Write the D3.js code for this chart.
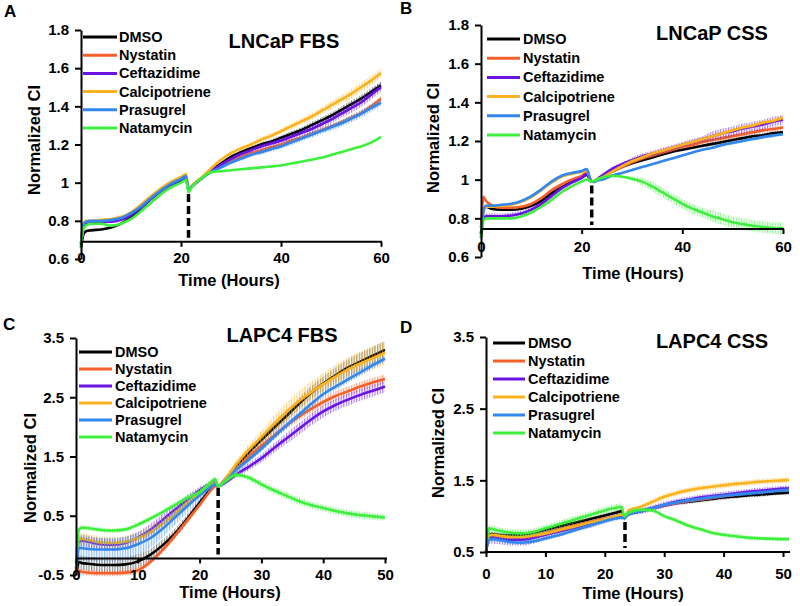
<!DOCTYPE html>
<html><head><meta charset="utf-8">
<script src="https://cdn.jsdelivr.net/npm/d3@7"></script>
<style>
body{margin:0;background:#fff}
svg{display:block}
text{font-family:"Liberation Sans",Arial,Helvetica,sans-serif;font-weight:bold;fill:#000}
</style>
</head><body>
<svg id="c" width="800" height="606"></svg>
<script>
// ---------- DATA ----------
const seriesNames = ["DMSO","Nystatin","Ceftazidime","Calcipotriene","Prasugrel","Natamycin"];
const panelTitles = ["LNCaP FBS","LNCaP CSS","LAPC4 FBS","LAPC4 CSS"];
const panelLetters = ["A","B","C","D"];
const xTicksAB = [0,20,40,60];
const xTicksCD = [0,10,20,30,40,50];
const yTicksAB = [0.6,0.8,1,1.2,1.4,1.6,1.8];
const yTicksCD = [-0.5,0.5,1.5,2.5,3.5];
const yTicksD = [0.5,1.5,2.5,3.5];
const treatTimes = [21.5,22,23,23.4];
const treatTop = [0.94,0.97,0.97,0.92];

// Panel A: LNCaP FBS
const timesA = [0,0.5,1,2,4,6,8,10,12,14,16,18,20,21,21.5,22,23,24,26,28,30,32,34,36,38,40,42,44,46,48,50,52,54,56,58,60];
const dmsoA = [0.66,0.73,0.745,0.75,0.755,0.765,0.785,0.82,0.865,0.915,0.955,0.99,1.01,1.025,0.96,0.975,1.0,1.02,1.065,1.10,1.135,1.16,1.18,1.20,1.215,1.235,1.255,1.275,1.30,1.325,1.35,1.38,1.41,1.44,1.475,1.51];
const nystatinA = [0.68,0.78,0.79,0.795,0.80,0.80,0.81,0.835,0.875,0.92,0.96,0.995,1.02,1.035,0.96,0.975,1.0,1.02,1.06,1.09,1.115,1.135,1.155,1.17,1.185,1.20,1.22,1.235,1.255,1.275,1.295,1.315,1.34,1.365,1.40,1.44];
const ceftazidimeA = [0.67,0.77,0.785,0.79,0.795,0.795,0.805,0.83,0.87,0.915,0.955,0.99,1.015,1.03,0.96,0.975,1.0,1.02,1.06,1.095,1.125,1.15,1.17,1.19,1.205,1.22,1.24,1.26,1.28,1.305,1.33,1.36,1.39,1.42,1.46,1.50];
const calcipotrieneA = [0.68,0.785,0.80,0.80,0.805,0.81,0.82,0.845,0.885,0.93,0.97,1.005,1.03,1.045,0.965,0.98,1.005,1.025,1.075,1.12,1.155,1.18,1.20,1.225,1.245,1.27,1.295,1.32,1.345,1.375,1.405,1.435,1.465,1.50,1.535,1.575];
const prasugrelA = [0.68,0.78,0.795,0.80,0.80,0.805,0.815,0.84,0.875,0.92,0.96,0.995,1.02,1.035,0.96,0.975,1.0,1.02,1.055,1.08,1.105,1.125,1.145,1.16,1.175,1.19,1.21,1.23,1.25,1.27,1.29,1.31,1.335,1.36,1.39,1.42];
const natamycinA = [0.66,0.76,0.775,0.785,0.785,0.775,0.785,0.81,0.85,0.895,0.94,0.975,1.0,1.015,0.95,0.97,1.0,1.02,1.055,1.06,1.065,1.07,1.075,1.08,1.085,1.09,1.10,1.11,1.12,1.13,1.145,1.16,1.175,1.19,1.21,1.24];
const errDmsoA = [0,.005,.005,.005,.005,.005,.005,.005,.005,.005,.005,.005,.006,.006,.006,.006,.006,.006,.008,.008,.01,.01,.01,.012,.012,.012,.014,.014,.016,.016,.018,.018,.02,.02,.02,.02];
const errNystatinA = [0,.004,.004,.004,.004,.004,.004,.004,.004,.004,.004,.004,.005,.005,.005,.005,.005,.005,.006,.006,.007,.007,.007,.008,.008,.008,.009,.009,.01,.01,.012,.012,.014,.014,.014,.014];
const errCeftazidimeA = [0,.005,.005,.005,.005,.005,.005,.005,.005,.005,.005,.005,.006,.006,.006,.006,.006,.006,.008,.008,.01,.01,.01,.013,.013,.013,.016,.016,.018,.018,.02,.02,.025,.025,.025,.025];
const errCalcipotrieneA = [0,.005,.005,.005,.005,.005,.005,.005,.005,.005,.005,.005,.006,.006,.006,.006,.006,.006,.008,.008,.01,.01,.01,.013,.013,.013,.016,.016,.018,.018,.022,.022,.025,.025,.025,.025];
const errPrasugrelA = [0,.005,.005,.005,.005,.005,.005,.005,.005,.005,.005,.005,.006,.006,.006,.006,.006,.006,.008,.008,.01,.01,.01,.012,.012,.012,.014,.014,.016,.016,.018,.018,.02,.02,.02,.02];
const errNatamycinA = [0,.004,.004,.004,.004,.004,.004,.004,.004,.004,.004,.004,.004,.004,.004,.004,.004,.004,.004,.004,.004,.004,.004,.005,.005,.005,.005,.005,.005,.005,.006,.006,.006,.006,.006,.006];

// Panel B: LNCaP CSS
const timesB = [0,0.5,1,2,4,6,8,10,12,14,16,18,20,21,22,22.5,23,24,26,28,30,32,34,36,38,40,42,44,46,48,50,52,54,56,58,60];
const dmsoB = [0.72,0.84,0.86,0.85,0.845,0.845,0.85,0.865,0.89,0.93,0.96,0.99,1.01,1.025,0.99,0.99,1.0,1.01,1.04,1.065,1.085,1.10,1.115,1.13,1.145,1.155,1.165,1.175,1.185,1.195,1.205,1.215,1.225,1.23,1.24,1.245];
const nystatinB = [0.75,0.91,0.89,0.87,0.855,0.855,0.86,0.875,0.905,0.945,0.975,1.0,1.02,1.035,0.99,0.99,1.0,1.01,1.04,1.065,1.09,1.11,1.125,1.14,1.155,1.17,1.18,1.195,1.205,1.215,1.225,1.235,1.245,1.255,1.262,1.27];
const ceftazidimeB = [0.70,0.80,0.81,0.81,0.81,0.815,0.825,0.845,0.875,0.915,0.955,0.985,1.01,1.03,0.99,0.99,1.0,1.02,1.055,1.08,1.10,1.12,1.135,1.15,1.165,1.18,1.195,1.21,1.225,1.24,1.25,1.265,1.275,1.285,1.30,1.31];
const calcipotrieneB = [0.72,0.84,0.86,0.86,0.865,0.87,0.885,0.91,0.945,0.985,1.015,1.03,1.04,1.045,0.99,0.99,1.0,1.01,1.04,1.07,1.095,1.115,1.135,1.15,1.165,1.18,1.195,1.21,1.225,1.24,1.255,1.27,1.28,1.295,1.305,1.32];
const prasugrelB = [0.72,0.845,0.865,0.865,0.87,0.875,0.89,0.915,0.95,0.99,1.02,1.035,1.045,1.055,0.99,0.99,0.995,1.0,1.02,1.035,1.05,1.065,1.08,1.095,1.11,1.125,1.14,1.155,1.165,1.18,1.19,1.20,1.21,1.22,1.228,1.235];
const natamycinB = [0.70,0.79,0.80,0.80,0.80,0.80,0.81,0.83,0.86,0.895,0.935,0.965,0.99,1.0,0.99,0.995,1.0,1.01,1.02,1.015,1.005,0.99,0.965,0.935,0.905,0.875,0.85,0.83,0.81,0.795,0.78,0.77,0.762,0.755,0.75,0.748];
const errDmsoB = [0,.005,.005,.005,.005,.005,.005,.005,.005,.005,.005,.005,.005,.005,.005,.005,.005,.005,.005,.005,.008,.008,.008,.008,.008,.008,.008,.008,.01,.01,.01,.01,.01,.01,.01,.01];
const errNystatinB = [0,.012,.01,.008,.008,.008,.008,.008,.008,.008,.008,.008,.008,.008,.008,.008,.008,.008,.008,.008,.01,.01,.01,.01,.01,.01,.01,.01,.012,.012,.012,.012,.012,.012,.012,.012];
const errCeftazidimeB = [0,.015,.015,.015,.015,.015,.015,.015,.01,.01,.01,.01,.01,.01,.01,.01,.01,.01,.01,.01,.015,.015,.015,.015,.015,.015,.015,.015,.025,.025,.025,.025,.025,.025,.025,.025];
const errCalcipotrieneB = [0,.005,.005,.005,.005,.005,.005,.005,.005,.005,.005,.005,.005,.005,.005,.005,.005,.005,.005,.005,.008,.008,.008,.008,.008,.008,.008,.008,.01,.01,.01,.01,.01,.01,.01,.01];
const errPrasugrelB = [0,.005,.005,.005,.005,.005,.005,.005,.005,.005,.005,.005,.005,.005,.005,.005,.005,.005,.005,.005,.006,.006,.006,.006,.006,.006,.006,.006,.008,.008,.008,.008,.008,.008,.008,.008];
const errNatamycinB = [0,.005,.005,.005,.005,.005,.005,.005,.005,.005,.005,.005,.005,.005,.005,.005,.005,.005,.005,.005,.012,.02,.025,.025,.025,.025,.025,.025,.03,.03,.03,.03,.03,.03,.03,.03];

// Panel C: LAPC4 FBS
const timesC = [0,0.5,1,2,4,6,8,10,12,14,16,18,20,22,22.5,23,24,26,28,30,32,34,36,38,40,42,44,46,48,50];
const dmsoC = [-0.5,-0.28,-0.3,-0.31,-0.33,-0.33,-0.32,-0.27,-0.16,0.0,0.2,0.45,0.72,0.97,1.02,1.0,1.1,1.35,1.57,1.78,1.98,2.18,2.38,2.57,2.73,2.87,3.0,3.1,3.2,3.3];
const nystatinC = [-0.5,-0.43,-0.45,-0.46,-0.47,-0.47,-0.46,-0.42,-0.28,-0.08,0.16,0.42,0.68,0.95,1.0,1.0,1.08,1.3,1.5,1.68,1.85,2.02,2.17,2.3,2.42,2.52,2.6,2.68,2.75,2.81];
const ceftazidimeC = [-0.4,0.07,0.08,0.06,0.02,0.01,0.04,0.13,0.26,0.43,0.6,0.77,0.93,1.05,1.07,1.0,1.05,1.2,1.33,1.47,1.64,1.8,1.96,2.12,2.26,2.37,2.46,2.54,2.61,2.68];
const calcipotrieneC = [-0.4,0.1,0.11,0.09,0.05,0.04,0.06,0.12,0.22,0.36,0.53,0.71,0.88,1.02,1.05,1.0,1.1,1.38,1.62,1.83,2.05,2.25,2.43,2.58,2.72,2.85,2.97,3.07,3.16,3.25];
const prasugrelC = [-0.45,-0.04,-0.05,-0.06,-0.07,-0.07,-0.05,0.02,0.12,0.28,0.47,0.66,0.84,1.0,1.03,1.0,1.07,1.28,1.45,1.63,1.83,2.02,2.2,2.38,2.55,2.68,2.8,2.92,3.04,3.15];
const natamycinC = [-0.3,0.27,0.3,0.29,0.26,0.25,0.27,0.35,0.45,0.56,0.68,0.8,0.9,1.08,1.12,1.0,1.07,1.19,1.14,1.03,0.93,0.84,0.75,0.68,0.63,0.58,0.54,0.51,0.49,0.47];
const errDmsoC = [0,.12,.12,.12,.12,.12,.12,.12,.1,.1,.08,.08,.06,.04,.04,.03,.04,.05,.06,.07,.08,.09,.1,.11,.12,.13,.14,.15,.15,.15];
const errNystatinC = [0,.05,.05,.05,.05,.05,.05,.05,.05,.05,.05,.05,.04,.03,.03,.03,.03,.04,.05,.05,.06,.06,.07,.07,.07,.08,.08,.08,.08,.08];
const errCeftazidimeC = [0,.1,.1,.1,.1,.1,.1,.1,.1,.1,.09,.08,.06,.04,.04,.03,.04,.05,.06,.07,.08,.09,.1,.1,.1,.1,.1,.1,.1,.1];
const errCalcipotrieneC = [0,.1,.1,.1,.1,.1,.1,.1,.1,.09,.08,.07,.06,.04,.04,.03,.05,.07,.09,.11,.13,.15,.17,.18,.19,.2,.2,.2,.2,.2];
const errPrasugrelC = [0,.2,.2,.2,.2,.2,.2,.19,.17,.15,.13,.11,.08,.05,.05,.03,.04,.05,.05,.05,.06,.06,.06,.06,.06,.06,.06,.06,.06,.06];
const errNatamycinC = [0,.04,.04,.04,.04,.04,.04,.04,.04,.04,.05,.05,.05,.05,.05,.03,.04,.05,.05,.06,.06,.06,.06,.06,.06,.06,.06,.06,.06,.05];

// Panel D: LAPC4 CSS
const timesD = [0,0.5,1,2,4,6,8,10,12,14,16,18,20,22,22.8,23.3,24,26,28,30,32,34,36,38,40,42,44,46,48,50,51];
const dmsoD = [0.5,0.74,0.75,0.74,0.73,0.74,0.77,0.81,0.85,0.89,0.93,0.97,1.01,1.05,1.07,1.0,1.03,1.07,1.11,1.15,1.18,1.2,1.22,1.24,1.26,1.275,1.29,1.3,1.315,1.325,1.33];
const nystatinD = [0.5,0.72,0.73,0.72,0.7,0.7,0.73,0.77,0.81,0.85,0.89,0.93,0.97,1.0,1.02,0.98,1.03,1.07,1.11,1.15,1.18,1.21,1.23,1.255,1.28,1.3,1.32,1.335,1.35,1.365,1.37];
const ceftazidimeD = [0.5,0.69,0.7,0.69,0.67,0.67,0.7,0.74,0.78,0.82,0.86,0.9,0.95,0.99,1.0,0.98,1.03,1.07,1.11,1.16,1.2,1.23,1.26,1.28,1.3,1.32,1.34,1.355,1.37,1.385,1.39];
const calcipotrieneD = [0.5,0.73,0.74,0.73,0.71,0.71,0.73,0.76,0.8,0.84,0.88,0.92,0.96,1.0,1.02,1.0,1.08,1.13,1.2,1.27,1.32,1.36,1.39,1.41,1.43,1.45,1.465,1.48,1.49,1.5,1.505];
const prasugrelD = [0.5,0.67,0.68,0.67,0.64,0.63,0.65,0.69,0.73,0.78,0.83,0.88,0.93,0.97,0.98,0.97,1.03,1.07,1.11,1.16,1.19,1.22,1.24,1.265,1.285,1.3,1.315,1.33,1.345,1.36,1.365];
const natamycinD = [0.55,0.83,0.82,0.8,0.77,0.76,0.78,0.83,0.88,0.93,0.98,1.03,1.08,1.12,1.13,1.0,1.05,1.09,1.08,1.0,0.94,0.87,0.82,0.77,0.74,0.72,0.7,0.69,0.685,0.68,0.68];
const errDmsoD = [0,.03,.03,.03,.03,.03,.03,.03,.03,.03,.03,.03,.03,.03,.03,.03,.03,.03,.03,.03,.03,.03,.03,.03,.03,.03,.03,.03,.03,.03,.03];
const errNystatinD = [0,.02,.02,.02,.02,.02,.02,.02,.02,.02,.02,.02,.02,.02,.02,.02,.02,.02,.02,.02,.02,.02,.02,.02,.02,.02,.02,.02,.02,.02,.02];
const errCeftazidimeD = [0,.08,.08,.08,.08,.08,.08,.07,.06,.05,.05,.05,.05,.04,.04,.03,.03,.04,.04,.04,.04,.04,.04,.04,.04,.04,.04,.04,.04,.04,.04];
const errCalcipotrieneD = [0,.03,.03,.03,.03,.03,.03,.03,.03,.03,.03,.03,.03,.03,.03,.03,.03,.03,.04,.04,.04,.04,.04,.04,.04,.04,.04,.04,.04,.04,.04];
const errPrasugrelD = [0,.03,.03,.03,.03,.03,.03,.03,.03,.03,.03,.03,.03,.03,.03,.03,.03,.03,.03,.03,.03,.03,.03,.03,.03,.03,.03,.03,.03,.03,.03];
const errNatamycinD = [0,.05,.05,.05,.05,.05,.05,.05,.05,.05,.05,.05,.05,.05,.05,.03,.03,.03,.03,.03,.03,.03,.03,.03,.03,.03,.03,.03,.03,.03,.03];

// ---------- STYLE ----------
const colors = ["#000000","#f5602a","#6a14e4","#fbb21c","#3388f0","#3cf03c"];
const FONT_TICK = 15, FONT_LEG = 14.5, FONT_AX = 16.5, FONT_TITLE = 20, FONT_LETTER = 17;

const svg = d3.select("#c");
const defs = svg.append("defs");
colors.forEach((c,i)=>{
  const p = defs.append("pattern").attr("id","hatch"+i)
    .attr("patternUnits","userSpaceOnUse").attr("width",2.6).attr("height",4);
  p.append("rect").attr("x",0).attr("y",0).attr("width",1.2).attr("height",4)
    .attr("fill",c).attr("fill-opacity",i===0?0.45:0.55);
});

const panels = [
  {times:timesA, vals:[dmsoA,nystatinA,ceftazidimeA,calcipotrieneA,prasugrelA,natamycinA],
   errs:[errDmsoA,errNystatinA,errCeftazidimeA,errCalcipotrieneA,errPrasugrelA,errNatamycinA],
   xDom:[0,60], xR:[81,381], axisEnd:382, yDom:[0.6,1.8], yR:[259,30], yTicks:yTicksAB, xTicks:xTicksAB,
   cross:0.69, xLabelY:258, titleX:284, titleY:48, legX0:83, legX1:117, legTX:119, legY0:37, legDY:18.2,
   yTitleX:34, yTitleY:140, xTitleX:229, xTitleY:286, letterX:4, letterY:17},
  {times:timesB, vals:[dmsoB,nystatinB,ceftazidimeB,calcipotrieneB,prasugrelB,natamycinB],
   errs:[errDmsoB,errNystatinB,errCeftazidimeB,errCalcipotrieneB,errPrasugrelB,errNatamycinB],
   xDom:[0,60], xR:[481,783], axisEnd:784, yDom:[0.6,1.8], yR:[257,25], yTicks:yTicksAB, xTicks:xTicksAB,
   cross:0.745, xLabelY:247, titleX:712, titleY:40, legX0:487, legX1:520, legTX:523, legY0:39, legDY:19.2,
   yTitleX:433, yTitleY:138, xTitleX:633, xTitleY:279, letterX:400, letterY:14},
  {times:timesC, vals:[dmsoC,nystatinC,ceftazidimeC,calcipotrieneC,prasugrelC,natamycinC],
   errs:[errDmsoC,errNystatinC,errCeftazidimeC,errCalcipotrieneC,errPrasugrelC,errNatamycinC],
   xDom:[0,50], xR:[76,385], axisEnd:387, yDom:[-0.5,3.5], yR:[575,338], yTicks:yTicksCD, xTicks:xTicksCD,
   cross:-0.22, xLabelY:575, titleX:282, titleY:342, legX0:79, legX1:112, legTX:115, legY0:352, legDY:17,
   yTitleX:30, yTitleY:468, xTitleX:230, xTitleY:598, letterX:3, letterY:330},
  {times:timesD, vals:[dmsoD,nystatinD,ceftazidimeD,calcipotrieneD,prasugrelD,natamycinD],
   errs:[errDmsoD,errNystatinD,errCeftazidimeD,errCalcipotrieneD,errPrasugrelD,errNatamycinD],
   xDom:[0,50], xR:[486,783], axisEnd:790, yDom:[0.5,3.5], yR:[552,337], yTicks:yTicksD, xTicks:xTicksCD,
   cross:0.5, xLabelY:574, titleX:712, titleY:348, legX0:493, legX1:525, legTX:528, legY0:343, legDY:18,
   yTitleX:438, yTitleY:443, xTitleX:633, xTitleY:599, letterX:400, letterY:333}
];

panels.forEach((P,pi)=>{
  const g = svg.append("g");
  const x = d3.scaleLinear().domain(P.xDom).range(P.xR);
  const y = d3.scaleLinear().domain(P.yDom).range(P.yR);
  const axisY = y(P.cross);

  // series
  P.vals.forEach((vals,si)=>{
    const pts = P.times.map((t,i)=>({t, v:vals[i], e:(P.errs[si][i]||0)})).filter(d=>d.v!=null);
    const area = d3.area().x(d=>x(d.t)).y0(d=>y(d.v-d.e)).y1(d=>y(d.v+d.e)).curve(d3.curveMonotoneX);
    g.append("path").attr("d",area(pts)).attr("fill","url(#hatch"+si+")").attr("stroke","none");
    const line = d3.line().x(d=>x(d.t)).y(d=>y(d.v)).curve(d3.curveMonotoneX);
    g.append("path").attr("d",line(pts)).attr("fill","none").attr("stroke",colors[si])
      .attr("stroke-width",2.6).attr("stroke-linejoin","round");
  });

  // dashed treatment line
  g.append("line").attr("x1",x(treatTimes[pi])).attr("x2",x(treatTimes[pi]))
    .attr("y1",y(treatTop[pi])).attr("y2",axisY-4)
    .attr("stroke","#000").attr("stroke-width",3.5).attr("stroke-dasharray","8,4");

  // y axis
  const ya = g.append("g").attr("transform",`translate(${P.xR[0]},0)`)
    .call(d3.axisLeft(y).tickValues(P.yTicks).tickSize(6).tickSizeOuter(0).tickPadding(6).tickFormat(d=>String(d)));
  ya.selectAll("path,line").attr("stroke","#000").attr("stroke-width",2);
  ya.selectAll("text").attr("font-size",FONT_TICK).attr("fill","#000")
    .style("font-family",'"Liberation Sans",Arial,sans-serif').style("font-weight","bold");

  // x axis
  const xa = g.append("g").attr("transform",`translate(0,${axisY})`)
    .call(d3.axisBottom(x).tickValues(P.xTicks).tickSize(5).tickSizeOuter(0).tickFormat(d=>String(d)));
  xa.select(".domain").remove();
  xa.append("line").attr("x1",P.xR[0]).attr("x2",P.axisEnd).attr("y1",0).attr("y2",0)
    .attr("stroke","#000").attr("stroke-width",2);
  xa.selectAll(".tick line").attr("stroke","#000").attr("stroke-width",2);
  xa.selectAll("text").attr("font-size",FONT_TICK).attr("fill","#000")
    .attr("y",P.xLabelY-axisY).attr("dy","0.35em")
    .style("font-family",'"Liberation Sans",Arial,sans-serif').style("font-weight","bold");

  // titles
  g.append("text").attr("x",P.titleX).attr("y",P.titleY).attr("text-anchor","middle")
    .attr("font-size",FONT_TITLE).text(panelTitles[pi]);
  g.append("text").attr("x",P.letterX).attr("y",P.letterY).attr("font-size",FONT_LETTER).text(panelLetters[pi]);
  g.append("text").attr("transform",`translate(${P.yTitleX},${P.yTitleY}) rotate(-90)`)
    .attr("text-anchor","middle").attr("dy","0.35em").attr("font-size",FONT_AX).text("Normalized CI");
  g.append("text").attr("x",P.xTitleX).attr("y",P.xTitleY).attr("text-anchor","middle")
    .attr("font-size",FONT_AX).text("Time (Hours)");

  // legend
  seriesNames.forEach((n,si)=>{
    const ly = P.legY0 + si*P.legDY;
    g.append("line").attr("x1",P.legX0).attr("x2",P.legX1).attr("y1",ly).attr("y2",ly)
      .attr("stroke",colors[si]).attr("stroke-width",3);
    g.append("text").attr("x",P.legTX).attr("y",ly).attr("dy","0.35em")
      .attr("font-size",FONT_LEG).text(n);
  });
});
</script>
</body></html>
